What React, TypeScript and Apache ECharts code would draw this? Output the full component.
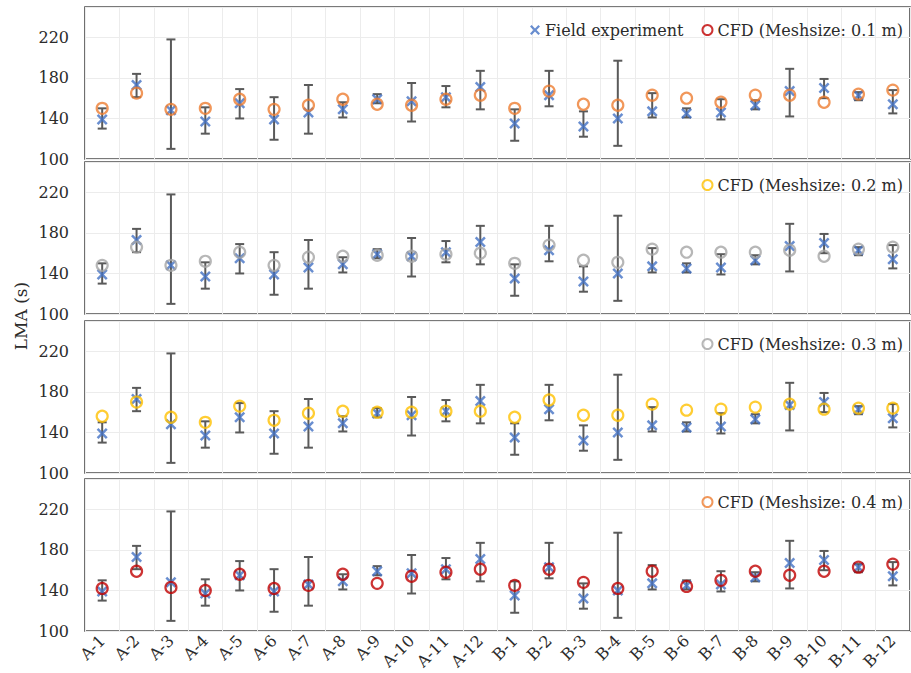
import React, { useEffect, useRef } from "react";
import * as echarts from "echarts";

const categories = [
  "A-1", "A-2", "A-3", "A-4", "A-5", "A-6", "A-7", "A-8", "A-9", "A-10", "A-11", "A-12",
  "B-1", "B-2", "B-3", "B-4", "B-5", "B-6", "B-7", "B-8", "B-9", "B-10", "B-11", "B-12",
];

const fieldMean = [139, 173, 148, 137, 155, 139, 146, 149, 159, 157, 161, 171, 135, 163, 132, 140, 147, 145, 146, 153, 167, 170, 163, 154];
const fieldLow = [130, 161, 110, 125, 140, 119, 125, 141, 155, 137, 151, 149, 118, 152, 122, 113, 141, 141, 139, 149, 142, 160, 158, 145];
const fieldHigh = [150, 184, 218, 151, 169, 161, 173, 156, 164, 175, 172, 187, 149, 187, 147, 197, 165, 150, 159, 158, 189, 179, 166, 168];

const cfdPanel1 = [150, 165, 149, 150, 159, 149, 153, 159, 154, 153, 159, 163, 150, 167, 154, 153, 163, 160, 156, 163, 163, 156, 164, 168];
const cfdPanel2 = [148, 166, 148, 152, 161, 148, 156, 157, 158, 157, 159, 160, 150, 168, 153, 151, 164, 161, 161, 161, 163, 157, 164, 166];
const cfdPanel3 = [156, 170, 155, 150, 166, 152, 159, 161, 160, 160, 161, 161, 155, 172, 157, 157, 168, 162, 163, 165, 168, 163, 164, 164];
const cfdPanel4 = [142, 159, 143, 140, 156, 142, 145, 156, 147, 154, 158, 161, 145, 161, 148, 142, 159, 144, 150, 159, 155, 159, 163, 166];

const legendNames = ["CFD (Meshsize: 0.1 m)", "CFD (Meshsize: 0.2 m)", "CFD (Meshsize: 0.3 m)", "CFD (Meshsize: 0.4 m)"];
const seriesColors = ["#ED7D31", "#A5A5A5", "#FFC000", "#C00000"];
const legendColors = ["#C00000", "#FFC000", "#A5A5A5", "#ED7D31"];
const panelValues = [cfdPanel1, cfdPanel2, cfdPanel3, cfdPanel4];
const yTicks = [100, 140, 180, 220];

const FONT = "DejaVu Serif";
const X_PATH =
  "path://M0,1.6 L1.6,0 L5,3.4 L8.4,0 L10,1.6 L6.6,5 L10,8.4 L8.4,10 L5,6.6 L1.6,10 L0,8.4 L3.4,5 Z";
const BLUE = "#4472C4";
const TEXT = "#2b2b2b";

export default function App() {
  const ref = useRef<HTMLDivElement>(null);

  useEffect(() => {
    document.body.style.margin = "0";
    if (!ref.current) return;
    const chart = echarts.init(ref.current, null, { renderer: "svg" });

    const tops = [7, 162, 321, 479];
    const H = 152;

    const grids = tops.map((t) => ({
      left: 85,
      right: 1,
      top: t,
      height: H,
      show: true,
      borderColor: "#4d4d4d",
      borderWidth: 1.6,
      backgroundColor: "transparent",
    }));

    const xAxes = tops.map((_, i) => ({
      type: "category",
      gridIndex: i,
      data: categories,
      boundaryGap: true,
      axisLine: { show: false },
      axisTick: { show: false },
      splitLine: { show: true, interval: 0, lineStyle: { color: "#ececec", width: 1 } },
      axisLabel: {
        show: i === 3,
        interval: 0,
        rotate: 45,
        margin: 7,
        fontFamily: FONT,
        fontSize: 16,
        color: TEXT,
      },
    }));

    const yAxes = tops.map((_, i) => ({
      type: "value",
      gridIndex: i,
      min: 100,
      max: 250,
      interval: 40,
      axisLine: { show: false },
      axisTick: { show: false },
      splitLine: { show: true, lineStyle: { color: "#ececec", width: 1 } },
      axisLabel: {
        margin: 16,
        fontFamily: FONT,
        fontSize: 16,
        color: TEXT,
        formatter: (v: number) => (yTicks.includes(v) ? String(v) : ""),
      },
    }));

    const series: any[] = [];
    tops.forEach((_, i) => {
      series.push({
        type: "custom",
        name: "error",
        xAxisIndex: i,
        yAxisIndex: i,
        z: 2,
        encode: { x: 0, y: [1, 2] },
        data: categories.map((_, j) => [j, fieldLow[j], fieldHigh[j]]),
        renderItem: (params: any, api: any) => {
          const x = api.value(0);
          const lo = api.coord([x, api.value(1)]);
          const hi = api.coord([x, api.value(2)]);
          const w = 4.5;
          const st = { stroke: "#5a5a5a", lineWidth: 2 };
          return {
            type: "group",
            children: [
              { type: "line", shape: { x1: lo[0], y1: lo[1], x2: hi[0], y2: hi[1] }, style: st },
              { type: "line", shape: { x1: lo[0] - w, y1: lo[1], x2: lo[0] + w, y2: lo[1] }, style: st },
              { type: "line", shape: { x1: hi[0] - w, y1: hi[1], x2: hi[0] + w, y2: hi[1] }, style: st },
            ],
          };
        },
        silent: true,
      });
      series.push({
        type: "scatter",
        name: "Field experiment",
        xAxisIndex: i,
        yAxisIndex: i,
        z: 3,
        symbol: X_PATH,
        symbolSize: 11,
        itemStyle: { color: BLUE },
        data: fieldMean,
      });
      series.push({
        type: "scatter",
        name: legendNames[i],
        xAxisIndex: i,
        yAxisIndex: i,
        z: 4,
        symbol: "circle",
        symbolSize: 11,
        itemStyle: { color: "rgba(0,0,0,0)", borderColor: seriesColors[i], borderWidth: 2.2 },
        data: panelValues[i],
      });
    });

    const legends = tops.map((t, i) => {
      const data: any[] = [];
      if (i === 0) {
        data.push({ name: "Field experiment", icon: X_PATH, itemStyle: { color: BLUE } });
      }
      data.push({
        name: legendNames[i],
        icon: "circle",
        itemStyle: { color: "rgba(0,0,0,0)", borderColor: legendColors[i], borderWidth: 2 },
      });
      return {
        show: true,
        right: 3,
        top: t + 10,
        orient: "horizontal",
        itemWidth: 10,
        itemHeight: 10,
        itemGap: 18,
        selectedMode: false,
        data,
        textStyle: { fontFamily: FONT, fontSize: 16, color: TEXT },
      };
    });

    chart.setOption({
      animation: false,
      backgroundColor: "#ffffff",
      grid: grids,
      xAxis: xAxes,
      yAxis: yAxes,
      legend: legends,
      series,
      graphic: [
        {
          type: "text",
          x: 21,
          y: 316,
          rotation: Math.PI / 2,
          style: {
            text: "LMA (s)",
            fontFamily: FONT,
            fontSize: 17,
            fill: TEXT,
            align: "center",
            verticalAlign: "middle",
          },
        },
      ],
    });

    return () => chart.dispose();
  }, []);

  return <div ref={ref} style={{ width: 911, height: 673 }} />;
}
